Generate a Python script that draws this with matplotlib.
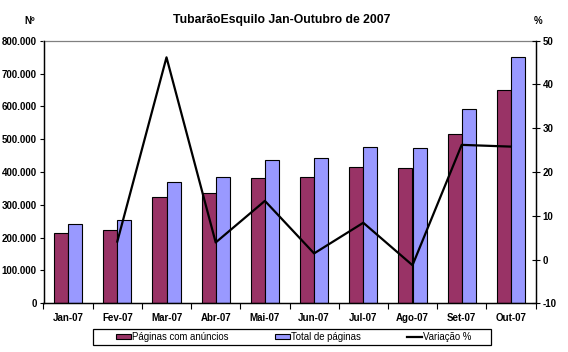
import numpy as np
import matplotlib
matplotlib.use("Agg")
import matplotlib.pyplot as plt
from matplotlib.patches import Patch, Rectangle
from matplotlib.lines import Line2D

categories = ["Jan-07", "Fev-07", "Mar-07", "Abr-07", "Mai-07", "Jun-07",
              "Jul-07", "Ago-07", "Set-07", "Out-07"]
paginas_anuncios = [213000, 222000, 323000, 335000, 381000, 384000,
                    416000, 411000, 517000, 651000]
total_paginas = [243000, 253000, 370000, 384000, 436000, 442000,
                 477000, 472000, 593000, 749000]
variacao = [np.nan, 4.1, 46.2, 3.9, 13.4, 1.4, 8.4, -1.3, 26.2, 25.8]
left_ticks = [0, 100000, 200000, 300000, 400000, 500000, 600000, 700000, 800000]
left_labels = ["0", "100.000", "200.000", "300.000", "400.000", "500.000",
               "600.000", "700.000", "800.000"]
right_ticks = [-10, 0, 10, 20, 30, 40, 50]

plt.rcParams['font.family'] = ['Liberation Sans', 'DejaVu Sans']

W, H = 568, 352
fig = plt.figure(figsize=(W / 100, H / 100), dpi=100)
fig.patch.set_facecolor("white")

x0, x1 = 43.5, 535.5
ytop, ybot = 40.7, 303.3
ax = fig.add_axes([x0 / W, 1 - ybot / H, (x1 - x0) / W, (ybot - ytop) / H])
ax2 = ax.twinx()

x = np.arange(len(categories))
w = 1 / 3.5
maroon = "#993366"
blue = "#9999FF"
ax.bar(x - w / 2, paginas_anuncios, width=w, color=maroon, edgecolor="black", linewidth=0.8, zorder=2)
ax.bar(x + w / 2, total_paginas, width=w, color=blue, edgecolor="black", linewidth=0.8, zorder=2)
ax2.plot(x, variacao, color="black", linewidth=1.6)

ax.set_xlim(-0.5, len(categories) - 0.5)
ax.set_ylim(0, 800000)
ax2.set_ylim(-10, 50)

ax.set_yticks(left_ticks)
ax.set_yticklabels(left_labels, fontsize=7, fontweight="bold")
ax.tick_params(axis="y", direction="out", length=3, width=0.8, pad=2)
ax2.set_yticks(right_ticks)
ax2.set_yticklabels([str(t) for t in right_ticks], fontsize=7, fontweight="bold")
ax2.tick_params(axis="y", direction="inout", length=6, width=0.8, pad=2)

ax.set_xticks(x)
ax.set_xticklabels(categories, fontsize=7, fontweight="bold")
ax.set_xticks(np.arange(-0.5, len(categories), 1), minor=True)
ax.tick_params(axis="x", which="major", length=0, pad=7)
ax.tick_params(axis="x", which="minor", direction="out", length=4, width=0.8)

for a in (ax, ax2):
    for s in ["left", "right", "bottom"]:
        a.spines[s].set_color("black")
        a.spines[s].set_linewidth(0.9)
ax.spines["top"].set_color("#808080")
ax.spines["top"].set_linewidth(0.9)
ax2.spines["top"].set_visible(False)

fig.text(282 / W, 1 - 20.5 / H, "TubarãoEsquilo Jan-Outubro de 2007", ha="center", va="center",
         fontsize=8.8, fontweight="bold")
fig.text(30 / W, 1 - 20.5 / H, "Nº", ha="center", va="center", fontsize=7, fontweight="bold")
fig.text(538 / W, 1 - 20.5 / H, "%", ha="center", va="center", fontsize=7, fontweight="bold")

# legend frame
fig.add_artist(Rectangle((92.5 / W, 1 - 345 / H), (491 - 92.5) / W, (345 - 329) / H,
                         transform=fig.transFigure, facecolor="white", edgecolor="black",
                         linewidth=0.9))
handles = [Patch(facecolor=maroon, edgecolor="black", linewidth=0.8),
           Patch(facecolor=blue, edgecolor="black", linewidth=0.8),
           Line2D([], [], color="black", linewidth=1.6)]
labels = ["Páginas com anúncios", "Total de páginas", "Variação %"]
leg = fig.legend(handles, labels, loc="center left", bbox_to_anchor=(116 / W, 1 - 337 / H),
                 ncol=3, fontsize=6.9, frameon=False,
                 handlelength=1.6, handleheight=0.55, handletextpad=0.1, columnspacing=4.8,
                 borderpad=0, borderaxespad=0)

fig.savefig("out.png", dpi=100)
